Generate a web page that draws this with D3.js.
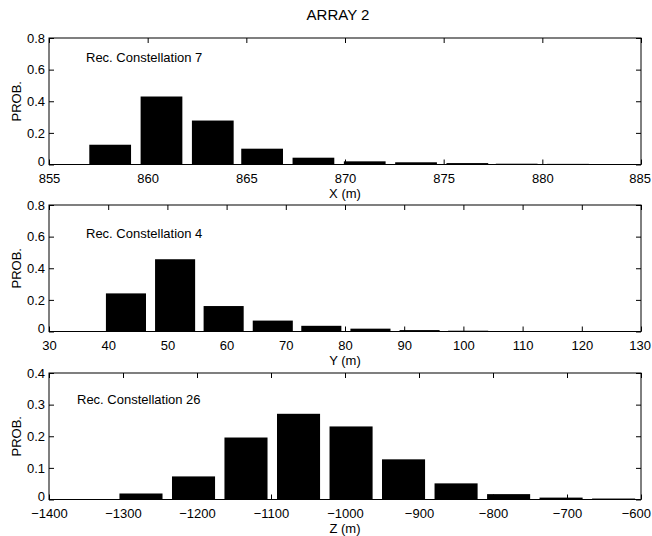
<!DOCTYPE html>
<html>
<head>
<meta charset="utf-8">
<script src="https://cdn.jsdelivr.net/npm/d3@7"></script>
<style>
  html, body { margin: 0; padding: 0; background: #fff; }
  svg { display: block; font-family: "Liberation Sans", Arial, Helvetica, sans-serif; }
</style>
</head>
<body>
<svg id="chart" width="652" height="536"></svg>
<script>
// ---------- data ----------
const chartTitle = "ARRAY 2";

const xCenters = [855.5, 858.1, 860.7, 863.3, 865.8, 868.4, 871.0, 873.6, 876.2, 878.7, 881.3];
const xProb    = [0.003, 0.125, 0.430, 0.278, 0.100, 0.043, 0.020, 0.014, 0.009, 0.005, 0.004];
const xTicks   = [855, 860, 865, 870, 875, 880, 885];

const yCenters = [43.0, 51.3, 59.5, 67.8, 76.0, 84.3, 92.6, 100.8, 109.1, 117.3];
const yProb    = [0.241, 0.457, 0.161, 0.069, 0.036, 0.018, 0.009, 0.005, 0.002, 0.001];
const yTicks   = [30, 40, 50, 60, 70, 80, 90, 100, 110, 120, 130];

const zCenters = [-1275.7, -1204.7, -1133.8, -1062.8, -991.8, -920.9, -849.9, -778.9, -708.0, -637.0];
const zProb    = [0.019, 0.073, 0.196, 0.271, 0.231, 0.127, 0.051, 0.017, 0.006, 0.003];
const zTicks   = [-1400, -1300, -1200, -1100, -1000, -900, -800, -700, -600];

const probTicksA = [0, 0.2, 0.4, 0.6, 0.8];
const probTicksB = [0, 0.1, 0.2, 0.3, 0.4];

const panelLabels = ["Rec. Constellation 7", "Rec. Constellation 4", "Rec. Constellation 26"];
const axisTitles  = ["X (m)", "Y (m)", "Z (m)"];
const yAxisTitle  = "PROB.";

// ---------- layout ----------
const left = 49, right = 641, plotH = 126.5;
const panels = [
  { top: 38,  centers: xCenters, probs: xProb, xTicks: xTicks, yTicks: probTicksA, yMax: 0.8,
    xDom: [855, 885], label: panelLabels[0], title: axisTitles[0], labelX: 86, labelY: 62 },
  { top: 205, centers: yCenters, probs: yProb, xTicks: yTicks, yTicks: probTicksA, yMax: 0.8,
    xDom: [30, 130], label: panelLabels[1], title: axisTitles[1], labelX: 86, labelY: 238 },
  { top: 373, centers: zCenters, probs: zProb, xTicks: zTicks, yTicks: probTicksB, yMax: 0.4,
    xDom: [-1400, -600], label: panelLabels[2], title: axisTitles[2], labelX: 77, labelY: 404 }
];
const barFrac = 0.82;
const tickLen = 5;
const fontSize = 13;
const svgW = 652;

const svg = d3.select("#chart");

svg.append("text")
  .attr("x", 338).attr("y", 20)
  .attr("text-anchor", "middle")
  .attr("font-size", 15)
  .text(chartTitle);

panels.forEach((p, i) => {
  const x = d3.scaleLinear().domain(p.xDom).range([left, right]);
  const y = d3.scaleLinear().domain([0, p.yMax]).range([p.top + plotH, p.top]);
  const bottom = p.top + plotH;
  const spacing = (p.centers[p.centers.length - 1] - p.centers[0]) / (p.centers.length - 1);
  const bw = spacing * barFrac;

  const clipId = "clip" + i;
  svg.append("clipPath").attr("id", clipId)
    .append("rect").attr("x", left).attr("y", p.top).attr("width", right - left).attr("height", plotH);

  const g = svg.append("g");

  g.append("g").attr("clip-path", `url(#${clipId})`)
    .selectAll("rect").data(p.centers.map((c, k) => ({ c, v: p.probs[k] })))
    .join("rect")
    .attr("x", d => x(d.c - bw / 2))
    .attr("width", d => x(d.c + bw / 2) - x(d.c - bw / 2))
    .attr("y", d => y(d.v))
    .attr("height", d => y(0) - y(d.v))
    .attr("fill", "#000");

  // bottom axis (ticks inward)
  const fmt = v => (v < 0 ? "\u2212" + Math.abs(v) : String(v));
  const xAxB = d3.axisBottom(x).tickValues(p.xTicks).tickSize(-tickLen).tickPadding(0).tickFormat(fmt);
  const gxb = g.append("g").attr("transform", `translate(0,${bottom})`).call(xAxB);
  gxb.select(".domain").remove();
  gxb.selectAll("text").attr("font-size", fontSize).attr("font-family", null)
     .attr("y", 18).attr("dy", 0);

  const xAxT = d3.axisTop(x).tickValues(p.xTicks).tickSize(-tickLen).tickFormat("");
  const gxt = g.append("g").attr("transform", `translate(0,${p.top})`).call(xAxT);
  gxt.select(".domain").remove();

  const yAxL = d3.axisLeft(y).tickValues(p.yTicks).tickSize(-tickLen).tickPadding(0)
    .tickFormat(v => String(v));
  const gyl = g.append("g").attr("transform", `translate(${left},0)`).call(yAxL);
  gyl.select(".domain").remove();
  gyl.selectAll("text").attr("font-size", fontSize).attr("font-family", null)
     .attr("x", -4).attr("dy", d => d === 0 ? "0.1em" : "0.32em");

  const yAxR = d3.axisRight(y).tickValues(p.yTicks).tickSize(-tickLen).tickFormat("");
  const gyr = g.append("g").attr("transform", `translate(${right},0)`).call(yAxR);
  gyr.select(".domain").remove();

  g.selectAll(".tick line").attr("stroke", "#000").attr("stroke-width", 1);

  // keep tick labels inside the picture
  gxb.selectAll("text").each(function () {
    const b = this.getBBox();
    const tick = this.parentNode;
    const tx = +tick.getAttribute("transform").match(/translate\(([-\d.]+)/)[1];
    const over = tx + b.x + b.width - (svgW - 1);
    if (over > 0) d3.select(this).attr("x", -over);
  });

  // frame
  g.append("rect")
    .attr("x", left).attr("y", p.top).attr("width", right - left).attr("height", plotH)
    .attr("fill", "none").attr("stroke", "#000").attr("stroke-width", 1);

  g.append("text").attr("x", p.labelX).attr("y", p.labelY)
    .attr("font-size", fontSize).text(p.label);

  g.append("text").attr("x", (left + right) / 2).attr("y", bottom + 33)
    .attr("text-anchor", "middle").attr("font-size", fontSize).text(p.title);

  g.append("text")
    .attr("transform", `translate(21,${p.top + plotH / 2}) rotate(-90)`)
    .attr("text-anchor", "middle").attr("font-size", fontSize).text(yAxisTitle);
});
</script>
</body>
</html>
